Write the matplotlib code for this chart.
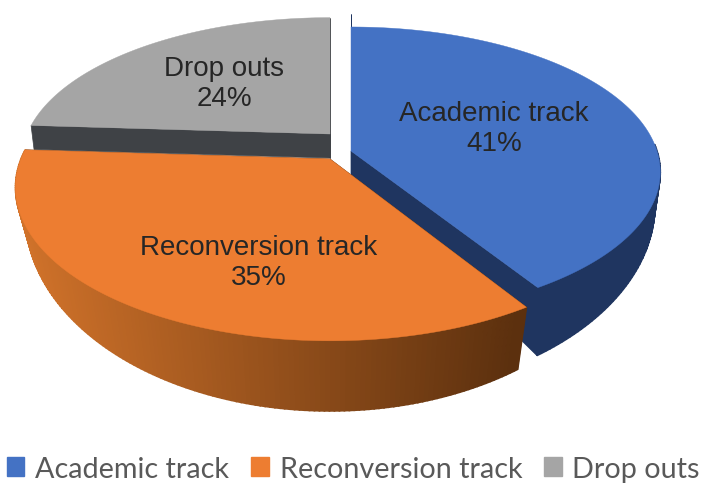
import numpy as np
import matplotlib
matplotlib.use("Agg")
import matplotlib.pyplot as plt
from matplotlib.patches import Patch
from matplotlib.colors import to_rgb

plt.rcParams["font.family"] = ["Liberation Sans", "DejaVu Sans"]

# data
labels = ["Academic track", "Reconversion track", "Drop outs"]
shares = [41, 35, 24]

top_colors = ["#4472c4", "#ed7d31", "#a5a5a5"]
wall_dark = ["#1f3560", "#5c300e", "#3f4246"]
wall_light = ["#1f3560", "#d0722a", "#3f4246"]

# pixel geometry of each slice: (cx, cy, rx, ry, persp) for top and bottom faces
top_geo = [
    (351, 152, 306, 142, 0.145),
    (330, 160, 309, 148, 0.186),
    (330, 135, 303, 138, 0.186),
]
bot_geo = [
    (351, 175, 300, 186, 0.16),
    (330, 183, 300, 190, 0.17),
    (330, 159, 300, 138, 0.186),
]
label_pos = [(494, 129), (259, 263), (224, 84)]


def project(t, geo):
    # t in degrees clockwise from 12 o'clock, gives pixel x, y
    cx, cy, rx, ry, p = geo
    t = np.radians(t)
    d = 1 + p * np.cos(t)
    return cx + rx * np.sin(t) / d, cy - ry * np.cos(t) / d


def draw_slice(ax, start, end, i):
    ts = np.linspace(start, end, 160)
    xt, yt = project(ts, top_geo[i])
    xb, yb = project(ts, bot_geo[i])
    tip_t = top_geo[i][:2]
    tip_b = bot_geo[i][:2]

    # radial walls
    for t in (end, start):
        x0, y0 = project(t, top_geo[i])
        x1, y1 = project(t, bot_geo[i])
        ax.fill([tip_t[0], x0, x1, tip_b[0]], [tip_t[1], y0, y1, tip_b[1]],
                color=wall_dark[i], lw=0.5)

    # outer wall, split in strips for the shading left to right
    c0, c1 = np.array(to_rgb(wall_light[i])), np.array(to_rgb(wall_dark[i]))
    for k in range(len(ts) - 1):
        if np.cos(np.radians(ts[k])) > 0.05:
            continue
        f = np.clip((xt[k] - 20) / 500, 0, 1)
        ax.fill([xt[k], xt[k + 1], xb[k + 1], xb[k]],
                [yt[k], yt[k + 1], yb[k + 1], yb[k]],
                color=c0 + (c1 - c0) * f, lw=1.2)

    # top face
    ax.fill(np.r_[tip_t[0], xt], np.r_[tip_t[1], yt], color=top_colors[i], lw=0.3)


fig = plt.figure(figsize=(7.07, 4.89), dpi=100)
ax = fig.add_axes([0, 0, 1, 1])
ax.set_xlim(0, 707)
ax.set_ylim(489, 0)
ax.axis("off")

edges = np.r_[0, np.cumsum(shares)] / sum(shares) * 360
for i in (2, 0, 1):
    draw_slice(ax, edges[i], edges[i + 1], i)

for i, (x, y) in enumerate(label_pos):
    ax.text(x, y, f"{labels[i]}\n{shares[i]}%", ha="center", va="center",
            fontsize=20, color="#262626", linespacing=1.2)

handles = [Patch(color=c, label=l) for c, l in zip(top_colors, labels)]
leg = ax.legend(handles=handles, loc="lower center", bbox_to_anchor=(0.5, -0.028),
                ncol=3, frameon=False, handlelength=0.6, handleheight=0.6,
                handletextpad=0.38, columnspacing=0.77, borderpad=0.2,
                prop={"family": ["Lato", "DejaVu Sans"], "size": 20.7})
for t in leg.get_texts():
    t.set_color("#595959")

fig.savefig("out.png", dpi=100)
